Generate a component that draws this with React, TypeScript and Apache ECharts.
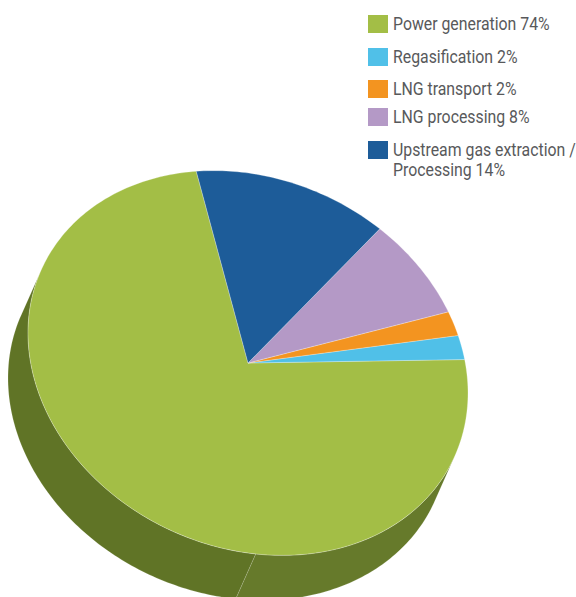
import React, { useEffect, useRef } from "react";
import * as echarts from "echarts";

// ---- data ----
const categories = [
  "Power generation",
  "Regasification",
  "LNG transport",
  "LNG processing",
  "Upstream gas extraction /\nProcessing",
];
const shares = [74, 2, 2, 8, 14];
const topColors = ["#a3be46", "#50c0e8", "#f39420", "#b499c6", "#1d5c99"];
const sideColors = ["#607426", "#2f8fb0", "#b86c10", "#7f6a8e", "#123f6c"];
const sideColorsRight = ["#667a2b", "#3499bb", "#c07214", "#86709a", "#144374"];

// ---- layout (pixels) ----
const CX = 248;
const CY = 363;
const RX = 220; // horizontal radius
const SHEAR = 30; // vertical skew component
const RY = 190; // vertical radius
const OFF_X = -20;
const OFF_Y = 45;
const START = 256.4; // start angle (deg, screen), slices go counter-clockwise
const SPLIT = 88; // side face split line
const legendTops = [15, 48, 80, 108, 141];

const rad = (d: number) => (d * Math.PI) / 180;
const pt = (deg: number, dx = 0, dy = 0): number[] => {
  const c = Math.cos(rad(deg));
  const s = Math.sin(rad(deg));
  return [CX + RX * c + dx, CY + SHEAR * c + RY * s + dy];
};
const arc = (from: number, to: number, dx = 0, dy = 0) => {
  const n = Math.max(2, Math.ceil(Math.abs(to - from)));
  const out: number[][] = [];
  for (let k = 0; k <= n; k++) out.push(pt(from + ((to - from) * k) / n, dx, dy));
  return out;
};

// visible side range: tangent where ellipse derivative is parallel to the offset
const visStart = (() => {
  const A = -RX * OFF_Y + SHEAR * OFF_X;
  const B = -RY * OFF_X;
  let t = (Math.atan2(-B, A) * 180) / Math.PI;
  while (t < 0) t += 180;
  while (t >= 180) t -= 180;
  return t;
})();
const visEnd = visStart + 180;

const cum: number[] = [];
{
  let acc = 0;
  for (const v of shares) {
    cum.push(acc);
    acc += v;
  }
}
const total = shares.reduce((a, b) => a + b, 0);
const sliceRange = (i: number) => {
  const a0 = START - (cum[i] / total) * 360;
  const a1 = a0 - (shares[i] / total) * 360;
  return [a1, a0];
};

export default function App() {
  const ref = useRef<HTMLDivElement>(null);
  useEffect(() => {
    document.body.style.margin = "0";
    const chart = echarts.init(ref.current!, undefined, { renderer: "svg" });
    const data = shares.map((v, i) => ({ name: categories[i], value: [v, i] }));

    const legendGraphics: any[] = [];
    categories.forEach((c, i) => {
      legendGraphics.push({
        type: "rect",
        shape: { x: 368, y: legendTops[i], width: 20, height: 18 },
        style: { fill: topColors[i] },
      });
      const lines = c.split("\n");
      lines[lines.length - 1] += " " + shares[i] + "%";
      legendGraphics.push({
        type: "text",
        x: 393,
        y: legendTops[i] - 1,
        scaleX: 0.88,
        style: {
          text: lines.join("\n"),
          fill: "#58595b",
          fontSize: 18,
          lineHeight: 20,
          fontFamily: "Roboto, sans-serif",
          verticalAlign: "top",
          align: "left",
        },
      });
    });

    chart.setOption({
      animation: false,
      graphic: legendGraphics,
      series: [
        {
          type: "custom",
          coordinateSystem: "none",
          silent: true,
          z: 1,
          data,
          renderItem: (params: any) => {
            const i = params.dataIndex;
            const [a1, a0] = sliceRange(i);
            const children: any[] = [];
            for (let k = -1; k <= 1; k++) {
              const lo = Math.max(a1, visStart + 360 * k);
              const hi = Math.min(a0, visEnd + 360 * k);
              if (hi <= lo) continue;
              const split = SPLIT + 360 * k;
              const parts: number[][] = [];
              if (split > lo && split < hi) {
                parts.push([lo, split], [split, hi]);
              } else parts.push([lo, hi]);
              parts.forEach(([p0, p1]) => {
                const right = p0 - 360 * k < SPLIT;
                const top = arc(p0, p1);
                const bot = arc(p1, p0, OFF_X, OFF_Y);
                children.push({
                  type: "polygon",
                  shape: { points: top.concat(bot) },
                  style: {
                    fill: right ? sideColorsRight[i] : sideColors[i],
                    stroke: "rgba(255,255,255,0.25)",
                    lineWidth: 0.6,
                  },
                });
              });
            }
            return { type: "group", children };
          },
        },
        {
          type: "custom",
          coordinateSystem: "none",
          silent: true,
          z: 2,
          data,
          renderItem: (params: any) => {
            const i = params.dataIndex;
            const [a1, a0] = sliceRange(i);
            const pts = [[CX, CY]].concat(arc(a0, a1));
            return {
              type: "polygon",
              shape: { points: pts },
              style: {
                fill: topColors[i],
                stroke: "rgba(255,255,255,0.45)",
                lineWidth: 0.6,
              },
            };
          },
        },
      ],
    });
    return () => chart.dispose();
  }, []);
  return <div ref={ref} style={{ width: 576, height: 597 }} />;
}
